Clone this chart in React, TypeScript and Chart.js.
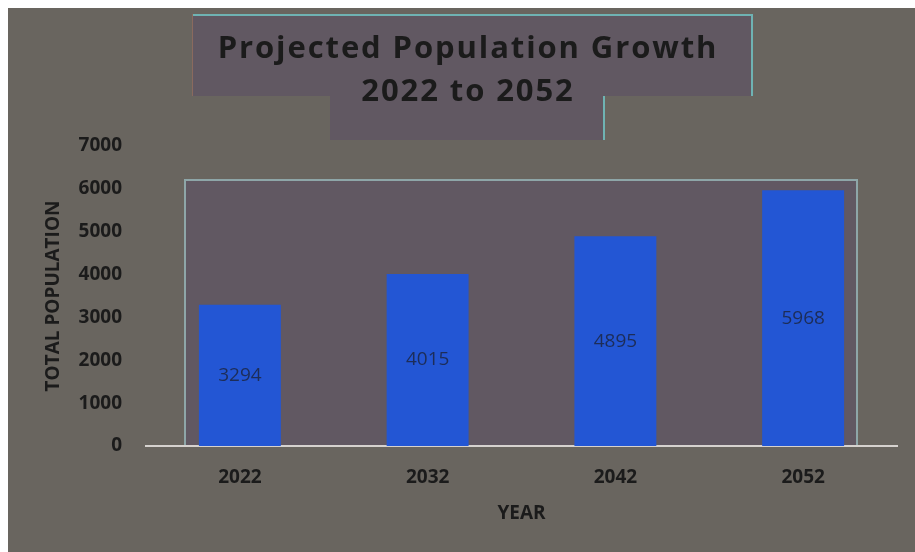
import React, { useEffect, useRef } from "react";
import { Chart, registerables } from "chart.js";

Chart.register(...registerables);

const categories = ["2022", "2032", "2042", "2052"];
const population = [3294, 4015, 4895, 5968];
const titleLines = ["Projected Population Growth", "2022 to 2052"];
const yTitle = "TOTAL POPULATION";
const xTitle = "YEAR";

const BG = "#69655f";
const MAUVE = "#615862";
const TEAL = "#6fb3b3";
const BAR = "#2356d4";
const TEXT = "#1b1b1b";

const decorPlugin = {
  id: "decor",
  beforeDraw(chart: any) {
    const { ctx, width, height, chartArea } = chart;
    ctx.save();
    ctx.fillStyle = BG;
    ctx.fillRect(0, 0, width, height);

    // title box (two stacked panels)
    ctx.fillStyle = MAUVE;
    ctx.fillRect(184, 6, 560, 82);
    ctx.fillRect(322, 88, 274, 44);
    ctx.strokeStyle = TEAL;
    ctx.lineWidth = 2;
    ctx.beginPath();
    ctx.moveTo(184, 7);
    ctx.lineTo(744, 7);
    ctx.lineTo(744, 88);
    ctx.moveTo(596, 88);
    ctx.lineTo(596, 132);
    ctx.stroke();
    ctx.strokeStyle = "#8a6a5e";
    ctx.lineWidth = 1;
    ctx.beginPath();
    ctx.moveTo(184.5, 6);
    ctx.lineTo(184.5, 88);
    ctx.stroke();

    // plot panel
    const l = chartArea.left + 39;
    const r = chartArea.right - 40;
    const t = chartArea.top + 34;
    const b = chartArea.bottom;
    ctx.fillStyle = MAUVE;
    ctx.fillRect(l, t, r - l, b - t);
    ctx.strokeStyle = "#8ea6a8";
    ctx.lineWidth = 2;
    ctx.beginPath();
    ctx.moveTo(l, b);
    ctx.lineTo(l, t);
    ctx.lineTo(r, t);
    ctx.lineTo(r, b);
    ctx.stroke();

    // title text
    ctx.fillStyle = TEXT;
    ctx.font = "bold 31px 'Open Sans'";
    ctx.textAlign = "center";
    ctx.textBaseline = "middle";
    (ctx as any).letterSpacing = "1.9px";
    ctx.fillText(titleLines[0], 460, 41);
    ctx.fillText(titleLines[1], 460, 84);
    ctx.restore();
  },
};

const valueLabelPlugin = {
  id: "valueLabels",
  afterDatasetsDraw(chart: any) {
    const { ctx } = chart;
    const meta = chart.getDatasetMeta(0);
    ctx.save();
    ctx.fillStyle = "#1d2d58";
    ctx.font = "19px 'Open Sans'";
    ctx.textAlign = "center";
    ctx.textBaseline = "middle";
    meta.data.forEach((bar: any, i: number) => {
      const { x, y, base } = bar.getProps(["x", "y", "base"], true);
      ctx.fillText(String(population[i]), x, (y + base) / 2);
    });
    ctx.restore();
  },
};

export default function App() {
  const canvasRef = useRef<HTMLCanvasElement>(null);

  useEffect(() => {
    if (!canvasRef.current) return;
    const chart = new Chart(canvasRef.current, {
      type: "bar",
      data: {
        labels: categories,
        datasets: [
          {
            data: population,
            backgroundColor: BAR,
            barPercentage: 0.9,
            categoryPercentage: 0.485,
          },
        ],
      },
      options: {
        animation: false,
        responsive: true,
        maintainAspectRatio: false,
        layout: { padding: { top: 138, right: 18, left: 0, bottom: 0 } },
        plugins: {
          legend: { display: false },
          title: { display: false },
          tooltip: { enabled: false },
        },
        scales: {
          x: {
            grid: { display: false, drawTicks: false },
            border: { display: true, color: "#d6d2cf", width: 2 },
            ticks: {
              color: TEXT,
              font: { family: "'Open Sans'", size: 19, weight: "bold" },
              padding: 20,
            },
            title: {
              display: true,
              text: xTitle,
              color: TEXT,
              font: { family: "'Open Sans'", size: 19, weight: "bold" },
              padding: { top: 0, bottom: 27 },
            },
            afterFit(scale: any) {
              scale.height = 106;
            },
          },
          y: {
            min: 0,
            max: 7000,
            grid: { display: false, drawTicks: false },
            border: { display: false },
            ticks: {
              stepSize: 1000,
              color: TEXT,
              font: { family: "'Open Sans'", size: 19, weight: "bold" },
              padding: 24,
              callback: (v: any) => String(v),
            },
            title: {
              display: true,
              text: yTitle,
              color: TEXT,
              font: { family: "'Open Sans'", size: 19, weight: "bold" },
              padding: { top: 34, bottom: 0 },
            },
            afterFit(scale: any) {
              scale.width = 138;
            },
          },
        },
      },
      plugins: [decorPlugin, valueLabelPlugin],
    });
    return () => chart.destroy();
  }, []);

  return (
    <div
      style={{
        position: "fixed",
        left: 8,
        top: 8,
        width: 907,
        height: 544,
      }}
    >
      <canvas ref={canvasRef} />
    </div>
  );
}
